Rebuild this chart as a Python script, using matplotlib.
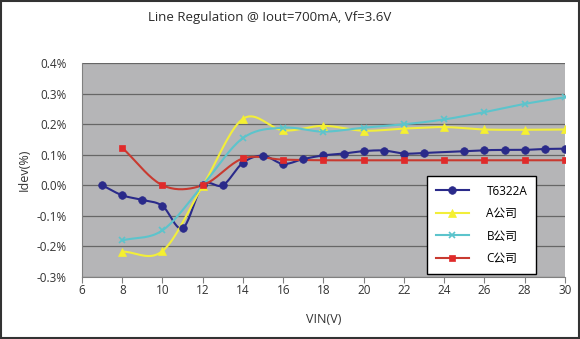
import numpy as np
import matplotlib
matplotlib.use("Agg")
import matplotlib.pyplot as plt
from matplotlib.patches import Rectangle

plt.rcParams['font.family'] = ['Open Sans', 'Noto Sans CJK SC', 'DejaVu Sans']

title = "Line Regulation @ Iout=700mA, Vf=3.6V"
x_label = "VIN(V)"
y_label = "Idev(%)"
series_names = ["T6322A", "A公司", "B公司", "C公司"]

t6322a_x = [7, 8, 9, 10, 11, 12, 13, 14, 15, 16, 17, 18, 19, 20, 21, 22, 23, 25, 26, 27, 28, 29, 30]
t6322a_y = [0.0, -0.033, -0.048, -0.068, -0.141, 0.0, 0.0, 0.074, 0.097, 0.070, 0.086, 0.098,
            0.104, 0.112, 0.114, 0.104, 0.106, 0.112, 0.115, 0.116, 0.116, 0.119, 0.120]

a_x = [8, 10, 12, 14, 16, 18, 20, 22, 24, 26, 28, 30]
a_y = [-0.218, -0.216, -0.002, 0.218, 0.180, 0.195, 0.179, 0.186, 0.191, 0.183, 0.182, 0.183]

b_x = [8, 10, 12, 14, 16, 18, 20, 22, 24, 26, 28, 30]
b_y = [-0.181, -0.148, 0.0, 0.155, 0.189, 0.176, 0.189, 0.200, 0.216, 0.240, 0.267, 0.289]

c_x = [8, 10, 12, 14, 16, 18, 20, 22, 24, 26, 28, 30]
c_y = [0.123, 0.0, 0.0, 0.088, 0.084, 0.082, 0.082, 0.082, 0.082, 0.082, 0.082, 0.082]

x_ticks = [6, 8, 10, 12, 14, 16, 18, 20, 22, 24, 26, 28, 30]
y_ticks = [-0.3, -0.2, -0.1, 0.0, 0.1, 0.2, 0.3, 0.4]
y_ticklabels = ["-0.3%", "-0.2%", "-0.1%", "0.0%", "0.1%", "0.2%", "0.3%", "0.4%"]


def smooth(xs, ys, n=20):
    # Catmull-Rom style smoothing (like Excel "smoothed line")
    p = np.column_stack([xs, ys]).astype(float)
    p = np.vstack([p[0] * 2 - p[1], p, p[-1] * 2 - p[-2]])
    out = []
    t = np.linspace(0, 1, n, endpoint=False)[:, None]
    for i in range(1, len(p) - 2):
        p0, p1, p2, p3 = p[i - 1], p[i], p[i + 1], p[i + 2]
        c1 = p1 + (p2 - p0) / 6.0
        c2 = p2 - (p3 - p1) / 6.0
        seg = ((1 - t) ** 3) * p1 + 3 * ((1 - t) ** 2) * t * c1 + 3 * (1 - t) * t ** 2 * c2 + t ** 3 * p2
        out.append(seg)
    out.append(p[-2][None, :])
    s = np.vstack(out)
    return s[:, 0], s[:, 1]


fig = plt.figure(figsize=(5.8, 3.39), dpi=100)
fig.patch.set_facecolor('white')
ax = fig.add_axes([0.1414, 0.184, 0.8326, 0.629])
ax.set_facecolor('#b5b5b7')

styles = [
    (t6322a_x, t6322a_y, '#2a2a8a', '#2a2a8a', 'o', 5.5),
    (a_x, a_y, '#f2ee3a', '#f5f030', '^', 6),
    (b_x, b_y, '#5cc4cc', '#5cc4cc', 'x', 4.5),
    (c_x, c_y, '#c83a30', '#e02a2a', 's', 5),
]

handles = []
for (xs, ys, lc, mc, mk, ms), name in zip(styles, series_names):
    sx, sy = smooth(xs, ys)
    ax.plot(sx, np.array(sy), color=lc, lw=1.5, zorder=3)
    ax.plot(xs, ys, linestyle='none', marker=mk, color=mc, ms=ms,
            markeredgewidth=1.2 if mk == 'x' else 0.5, zorder=4)
    h, = ax.plot([], [], color=lc, lw=1.5, marker=mk, ms=ms, markerfacecolor=mc,
                 markeredgecolor=mc, markeredgewidth=1.2 if mk == 'x' else 0.5, label=name)
    handles.append(h)

ax.set_xlim(6, 30)
ax.set_ylim(-0.3, 0.4)
ax.set_xticks(x_ticks)
ax.set_yticks(y_ticks)
ax.set_yticklabels(y_ticklabels)
ax.grid(axis='y', color='#666666', lw=0.9)
ax.set_axisbelow(True)
for s in ['top', 'right']:
    ax.spines[s].set_visible(False)
ax.spines['left'].set_color('#808080')
ax.spines['bottom'].set_color('#808080')
ax.tick_params(axis='x', direction='out', length=4, color='#808080', labelsize=8.5,
               labelcolor='#333333', pad=1.5)
ax.tick_params(axis='y', length=0, labelsize=8.5, labelcolor='#333333', pad=11)

ax.set_xlabel(x_label, fontsize=9, color='#333333', labelpad=11)
ax.set_ylabel(y_label, fontsize=9, color='#333333', labelpad=4)
fig.text(0.5 * (152 + 387) / 580, 1 - 17 / 339, title, ha='center', va='center',
         fontsize=9.5, color='#2a2a2a')

leg = ax.legend(handles=handles, loc='upper left', bbox_to_anchor=(0.714, 0.473),
                frameon=True, fancybox=False, framealpha=1, edgecolor='black',
                fontsize=8.5, handlelength=2.8, labelspacing=0.8, borderpad=0.75,
                handletextpad=1.5, borderaxespad=0)
leg.get_frame().set_linewidth(1.0)

fig.patches.append(Rectangle((0.002, 0.003), 0.996, 0.994, transform=fig.transFigure,
                             fill=False, edgecolor='#333333', lw=1.5))

fig.savefig('out.png', dpi=100)
